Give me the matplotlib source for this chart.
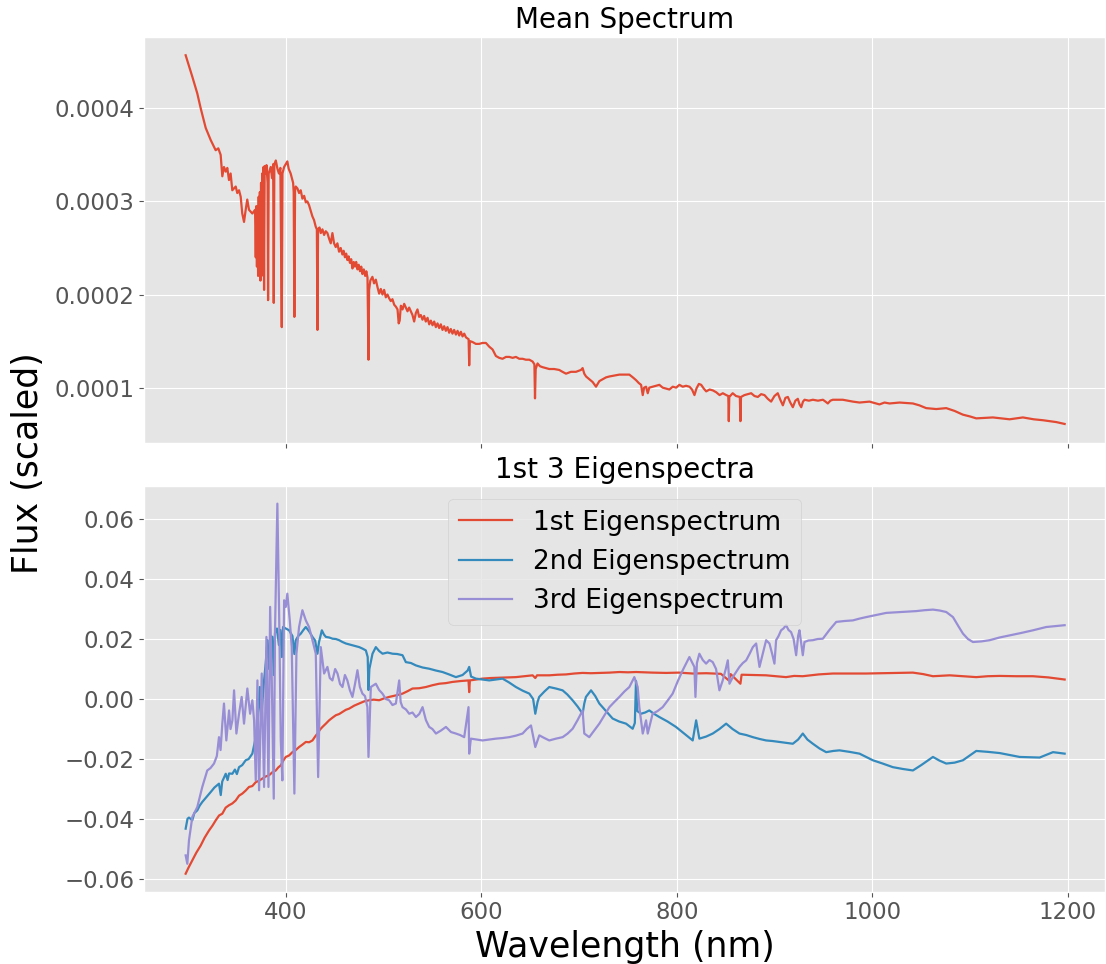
import numpy as np
import matplotlib
matplotlib.use("Agg")
import matplotlib.pyplot as plt

plt.style.use("ggplot")

# mean spectrum, wavelength in nm, flux in units of 1e-4
mean_wl = [
    297.6, 304.4, 309.5, 313.0, 318.1, 323.2, 328.3, 331.0, 333.4, 335.1, 336.8, 338.6,
    340.2, 341.9, 343.6, 345.3, 348.8, 350.4, 352.2, 353.9, 355.5, 357.3, 359.0, 360.6,
    362.4, 365.8, 368.6, 369.3, 369.9, 370.5, 371.1, 371.7, 372.3, 372.9, 373.5, 374.1,
    374.7, 375.3, 375.9, 376.5, 377.2, 377.8, 378.4, 379.5, 380.3, 381.4, 381.9, 382.5,
    384.6, 386.0, 387.1, 387.7, 388.3, 389.8, 391.5, 393.0, 394.5, 395.9, 396.6, 398.3,
    400.0, 401.6, 403.0, 405.0, 407.5, 408.1, 408.8, 409.5, 410.2, 411.9, 413.6, 415.3,
    417.0, 418.8, 420.5, 422.1, 423.8, 425.5, 427.2, 428.9, 430.6, 431.8, 432.4, 433.0,
    434.5, 435.8, 437.5, 439.2, 440.9, 442.6, 444.3, 446.0, 447.7, 449.4, 451.1, 452.8,
    454.5, 456.2, 457.9, 459.2, 460.5, 461.8, 463.0, 464.3, 465.6, 466.9, 468.2, 469.5,
    470.8, 472.0, 473.3, 474.6, 475.9, 477.2, 478.4, 479.8, 481.2, 482.4, 483.6, 484.6,
    485.2, 486.5, 488.6, 490.3, 492.1, 493.8, 495.5, 497.2, 498.9, 500.6, 502.3, 504.0,
    505.7, 507.4, 509.1, 510.9, 512.6, 514.3, 515.5, 516.5, 517.7, 519.4, 521.1, 522.8,
    524.5, 526.2, 527.9, 529.6, 531.3, 533.0, 534.7, 536.4, 538.1, 539.8, 541.5, 543.2,
    545.0, 546.7, 548.4, 550.1, 551.8, 553.5, 555.2, 556.9, 558.6, 560.3, 562.0, 563.7,
    565.4, 567.1, 568.8, 570.5, 572.2, 574.0, 575.7, 577.4, 579.1, 580.8, 582.5, 584.3,
    587.0, 587.6, 588.3, 591.0, 594.4, 597.8, 601.2, 604.7, 608.1, 611.5, 614.9, 618.3,
    621.7, 625.2, 628.6, 632.0, 635.4, 638.8, 642.2, 645.6, 649.1, 652.5, 654.3, 654.9,
    655.6, 657.5, 660.0, 662.6, 666.0, 669.5, 674.5, 679.7, 683.0, 686.6, 691.7, 696.8,
    701.9, 703.6, 705.3, 707.1, 710.5, 713.9, 717.3, 720.7, 724.0, 727.5, 731.0, 736.0,
    741.2, 746.0, 751.4, 755.0, 758.3, 761.0, 763.4, 765.1, 766.5, 768.5, 770.2, 771.8,
    775.2, 778.6, 782.1, 785.5, 789.0, 792.3, 795.8, 799.2, 802.6, 806.0, 809.4, 812.9,
    815.5, 818.0, 820.0, 822.5, 824.9, 827.5, 830.0, 833.5, 836.9, 840.3, 843.7, 847.0,
    850.5, 852.6, 853.1, 853.6, 857.1, 860.5, 864.4, 865.0, 865.6, 869.1, 872.5, 876.0,
    879.4, 882.8, 886.2, 889.6, 893.0, 896.4, 899.8, 903.2, 905.8, 908.4, 911.0, 913.5,
    916.0, 918.6, 921.2, 923.7, 925.5, 927.2, 929.0, 930.6, 935.0, 939.1, 944.3, 949.4,
    952.0, 954.4, 957.0, 959.5, 964.6, 969.7, 975.0, 980.0, 986.8, 997.0, 1007.2, 1012.4,
    1017.5, 1027.8, 1041.4, 1048.0, 1055.0, 1065.3, 1075.5, 1084.0, 1092.5, 1100.0, 1106.2, 1123.2,
    1140.3, 1153.9, 1165.0, 1174.4, 1188.1, 1196.6,
]
mean_flux = [
    4.57, 4.34, 4.16, 4.00, 3.79, 3.66, 3.55, 3.57, 3.50, 3.27, 3.37, 3.32,
    3.36, 3.23, 3.30, 3.12, 3.16, 3.09, 3.12, 3.05, 2.87, 2.78, 2.91, 3.02,
    2.91, 2.87, 2.91, 2.40, 2.95, 2.30, 2.90, 2.20, 3.05, 2.25, 3.10, 2.15,
    3.20, 2.20, 3.30, 2.25, 3.37, 2.05, 3.38, 3.30, 3.39, 3.20, 1.94, 3.30,
    3.37, 3.25, 3.40, 1.91, 3.40, 3.44, 3.35, 3.30, 3.36, 1.65, 3.30, 3.37,
    3.40, 3.43, 3.35, 3.30, 3.20, 3.10, 1.76, 3.12, 3.16, 3.14, 3.09, 3.12,
    3.03, 3.06, 2.99, 3.00, 2.96, 2.90, 2.84, 2.80, 2.73, 2.70, 1.62, 2.70,
    2.72, 2.66, 2.70, 2.64, 2.68, 2.66, 2.60, 2.55, 2.66, 2.55, 2.51, 2.55,
    2.46, 2.50, 2.43, 2.47, 2.40, 2.44, 2.37, 2.41, 2.34, 2.38, 2.28, 2.35,
    2.30, 2.35, 2.27, 2.32, 2.25, 2.30, 2.22, 2.27, 2.20, 2.25, 2.18, 1.30,
    2.05, 2.15, 2.19, 2.12, 2.16, 2.08, 2.01, 2.06, 2.00, 2.05, 1.97, 2.00,
    1.96, 1.93, 1.95, 1.89, 1.87, 1.84, 1.69, 1.72, 1.88, 1.84, 1.90, 1.86,
    1.82, 1.86, 1.82, 1.78, 1.71, 1.80, 1.84, 1.76, 1.78, 1.73, 1.77, 1.71,
    1.75, 1.68, 1.72, 1.67, 1.71, 1.65, 1.69, 1.64, 1.68, 1.62, 1.66, 1.61,
    1.65, 1.59, 1.63, 1.58, 1.62, 1.57, 1.61, 1.56, 1.60, 1.55, 1.58, 1.54,
    1.52, 1.24, 1.50, 1.49, 1.47, 1.47, 1.48, 1.48, 1.44, 1.41, 1.34, 1.32,
    1.31, 1.33, 1.33, 1.32, 1.33, 1.31, 1.31, 1.30, 1.30, 1.28, 1.25, 0.885,
    1.20, 1.26, 1.23, 1.22, 1.21, 1.20, 1.20, 1.19, 1.17, 1.15, 1.17, 1.17,
    1.19, 1.21, 1.15, 1.12, 1.09, 1.06, 1.01, 1.07, 1.09, 1.11, 1.12, 1.13,
    1.14, 1.14, 1.14, 1.11, 1.08, 1.05, 1.03, 0.92, 1.00, 1.01, 0.94, 1.00,
    1.01, 1.02, 1.03, 1.00, 0.99, 0.98, 1.01, 1.00, 1.03, 1.01, 1.02, 1.01,
    0.98, 0.92, 0.99, 1.04, 1.03, 0.99, 0.96, 0.98, 0.97, 0.95, 0.92, 0.94,
    0.92, 0.91, 0.64, 0.90, 0.94, 0.91, 0.90, 0.64, 0.90, 0.92, 0.93, 0.94,
    0.91, 0.90, 0.93, 0.92, 0.88, 0.85, 0.91, 0.94, 0.87, 0.81, 0.89, 0.90,
    0.84, 0.79, 0.86, 0.88, 0.82, 0.79, 0.85, 0.87, 0.86, 0.87, 0.86, 0.87,
    0.85, 0.83, 0.86, 0.87, 0.87, 0.87, 0.86, 0.85, 0.84, 0.85, 0.82, 0.84,
    0.83, 0.84, 0.83, 0.81, 0.78, 0.77, 0.78, 0.75, 0.71, 0.69, 0.67, 0.68,
    0.66, 0.68, 0.66, 0.65, 0.63, 0.61,
]

# eigenspectra, values in units of 1e-2
eig1_wl = [
    297.6, 300.5, 304.4, 308.5, 313.0, 317.0, 321.5, 325.0, 328.4, 331.8, 335.1, 338.5,
    341.9, 345.3, 348.8, 352.2, 355.6, 359.0, 362.4, 365.8, 369.3, 372.7, 376.1, 379.5,
    382.9, 386.3, 389.8, 392.3, 394.9, 397.5, 400.0, 403.4, 406.8, 410.2, 413.6, 417.0,
    420.5, 423.9, 427.3, 430.0, 432.4, 435.0, 437.5, 441.0, 444.3, 447.8, 451.2, 454.6,
    458.0, 461.4, 464.8, 470.0, 475.0, 480.0, 485.3, 490.0, 495.5, 500.5, 505.7, 512.5,
    519.4, 524.5, 529.6, 536.5, 543.3, 550.0, 556.9, 563.7, 570.5, 579.0, 586.9, 587.6,
    588.3, 594.4, 601.2, 609.8, 618.3, 626.8, 635.4, 644.0, 652.5, 655.2, 657.0, 669.5,
    678.0, 686.6, 695.0, 703.6, 712.0, 720.7, 731.0, 741.2, 750.0, 758.3, 766.0, 775.0,
    788.9, 802.0, 816.2, 830.0, 845.0, 853.1, 855.0, 865.0, 866.2, 878.0, 891.2, 901.0,
    911.6, 920.0, 928.7, 945.0, 959.5, 976.0, 993.6, 1010.0, 1027.8, 1041.4, 1052.0, 1061.9,
    1079.0, 1092.0, 1106.2, 1118.0, 1130.0, 1147.0, 1164.1, 1180.0, 1196.6,
]
eig1 = [
    -5.82, -5.62, -5.38, -5.12, -4.88, -4.62, -4.38, -4.22, -4.04, -3.88, -3.82, -3.62,
    -3.54, -3.48, -3.38, -3.22, -3.15, -3.05, -2.93, -2.90, -2.77, -2.72, -2.65, -2.58,
    -2.54, -2.44, -2.38, -2.28, -2.21, -2.05, -1.93, -1.88, -1.77, -1.70, -1.60, -1.52,
    -1.43, -1.44, -1.38, -1.25, -1.15, -1.02, -0.93, -0.82, -0.71, -0.62, -0.54, -0.50,
    -0.43, -0.36, -0.32, -0.22, -0.15, -0.08, -0.04, -0.02, -0.04, 0.02, 0.07, 0.12,
    0.18, 0.26, 0.35, 0.36, 0.40, 0.46, 0.51, 0.53, 0.57, 0.60, 0.62, 0.23,
    0.62, 0.65, 0.68, 0.70, 0.71, 0.72, 0.73, 0.76, 0.79, 0.70, 0.79, 0.79,
    0.81, 0.82, 0.85, 0.87, 0.86, 0.87, 0.88, 0.90, 0.89, 0.90, 0.89, 0.88,
    0.87, 0.88, 0.85, 0.86, 0.84, 0.62, 0.83, 0.51, 0.81, 0.80, 0.79, 0.76,
    0.73, 0.77, 0.76, 0.82, 0.85, 0.85, 0.85, 0.86, 0.87, 0.88, 0.83, 0.76,
    0.79, 0.76, 0.73, 0.76, 0.77, 0.76, 0.76, 0.72, 0.65,
]

eig2_wl = [
    297.6, 299.5, 301.0, 304.4, 306.5, 309.5, 312.0, 314.6, 318.0, 323.2, 327.0, 331.7,
    333.5, 335.0, 338.6, 340.5, 342.0, 345.4, 348.0, 350.0, 352.2, 355.5, 359.0, 362.0,
    365.8, 368.5, 371.0, 373.5, 375.0, 377.8, 379.5, 381.4, 383.0, 384.5, 386.3, 387.7,
    389.0, 391.0, 393.0, 394.5, 396.0, 397.2, 400.0, 403.4, 406.8, 408.8, 410.2, 412.8,
    415.4, 418.0, 420.5, 424.0, 427.3, 430.0, 432.4, 434.0, 436.9, 439.0, 441.0, 444.5,
    447.8, 451.2, 454.6, 458.0, 461.5, 465.0, 468.3, 471.7, 475.1, 478.5, 481.9, 483.8,
    484.6, 485.5, 488.7, 492.1, 495.5, 499.0, 504.0, 509.2, 514.0, 519.4, 522.8, 528.0,
    533.1, 540.0, 546.7, 553.5, 560.3, 567.0, 574.0, 580.8, 586.0, 587.6, 589.5, 594.4,
    601.2, 608.1, 615.0, 621.7, 628.5, 635.4, 642.2, 649.1, 653.0, 655.2, 657.5, 659.2,
    664.5, 669.5, 676.3, 683.1, 688.0, 693.3, 698.5, 703.6, 705.3, 707.0, 712.2, 716.5,
    720.7, 727.5, 734.3, 741.0, 748.0, 754.8, 757.0, 758.2, 759.5, 763.3, 767.5, 771.8,
    777.0, 782.1, 790.5, 799.1, 807.5, 816.2, 819.7, 823.0, 830.0, 836.7, 843.5, 850.4,
    857.0, 864.0, 871.0, 877.7, 884.5, 891.3, 898.0, 905.0, 912.0, 918.6, 924.0, 928.8,
    933.5, 939.1, 946.0, 952.7, 960.0, 966.3, 976.5, 986.8, 1000.4, 1010.5, 1020.9, 1031.0,
    1041.4, 1050.0, 1061.9, 1068.5, 1075.5, 1084.0, 1092.6, 1106.2, 1118.0, 1130.1, 1150.6, 1171.0,
    1184.7, 1196.6,
]
eig2 = [
    -4.32, -3.99, -3.95, -4.04, -3.80, -3.71, -3.55, -3.43, -3.30, -3.10, -2.95, -2.82,
    -3.20, -2.75, -2.49, -2.70, -2.48, -2.49, -2.35, -2.50, -2.27, -2.20, -2.04, -2.00,
    -1.82, -1.40, -0.93, 0.40, -0.60, 0.62, 1.20, 1.96, 1.00, 2.10, 2.07, 0.80,
    2.20, 2.35, 1.80, 2.30, 1.40, 2.40, 2.35, 2.29, 2.10, 1.50, 1.96, 2.10,
    2.18, 2.30, 2.40, 2.25, 2.07, 1.95, 1.51, 1.90, 2.29, 2.15, 2.07, 2.05,
    2.01, 2.00, 1.96, 1.90, 1.85, 1.82, 1.79, 1.76, 1.73, 1.68, 1.62, 1.40,
    0.30, 1.00, 1.51, 1.73, 1.60, 1.51, 1.55, 1.51, 1.50, 1.46, 1.23, 1.20,
    1.12, 1.05, 1.01, 0.95, 0.90, 0.82, 0.73, 0.80, 0.95, 1.07, 0.75, 0.68,
    0.65, 0.62, 0.65, 0.68, 0.55, 0.40, 0.28, 0.18, 0.00, -0.49, -0.10, 0.07,
    0.25, 0.40, 0.35, 0.29, 0.15, -0.04, -0.25, -0.49, -0.15, 0.07, 0.29, 0.10,
    -0.15, -0.40, -0.65, -0.75, -0.82, -0.99, -0.80, 0.60, -0.40, -0.49, -0.45, -0.38,
    -0.50, -0.60, -0.75, -0.93, -1.15, -1.38, -0.71, -1.32, -1.25, -1.15, -1.00, -0.82,
    -1.00, -1.15, -1.20, -1.27, -1.33, -1.38, -1.40, -1.43, -1.46, -1.49, -1.35, -1.15,
    -1.35, -1.49, -1.65, -1.77, -1.73, -1.71, -1.76, -1.82, -2.04, -2.15, -2.27, -2.33,
    -2.38, -2.20, -1.93, -2.05, -2.15, -2.12, -2.04, -1.73, -1.76, -1.80, -1.93, -1.95,
    -1.77, -1.82,
]

eig3_wl = [
    297.6, 299.3, 301.0, 304.4, 309.5, 314.6, 319.7, 323.0, 326.6, 329.5, 331.7, 333.3,
    335.1, 336.8, 339.2, 342.0, 343.5, 345.4, 347.1, 349.5, 352.2, 354.9, 357.3, 360.7,
    363.5, 365.8, 367.6, 369.3, 371.0, 372.7, 375.4, 377.8, 380.2, 382.3, 384.0, 385.7,
    387.7, 389.0, 391.4, 393.2, 394.9, 396.5, 398.3, 400.0, 401.6, 404.1, 406.1, 408.8,
    410.9, 413.6, 417.0, 420.5, 423.8, 427.3, 430.7, 433.1, 435.8, 439.2, 442.6, 445.0,
    447.7, 450.5, 452.9, 455.5, 458.0, 460.5, 463.0, 465.5, 468.2, 470.8, 473.3, 475.8,
    478.4, 481.0, 483.5, 484.6, 487.0, 492.1, 495.5, 498.9, 502.3, 505.7, 509.1, 512.6,
    516.0, 517.5, 519.4, 523.0, 526.2, 529.6, 533.1, 536.5, 539.9, 543.3, 546.7, 550.0,
    553.6, 558.7, 563.8, 569.0, 574.0, 578.3, 582.5, 586.9, 587.6, 589.3, 595.2, 601.2,
    608.0, 614.9, 621.7, 628.6, 635.4, 642.2, 646.5, 650.8, 655.2, 659.3, 664.5, 669.5,
    676.3, 683.2, 688.3, 693.4, 698.5, 703.6, 705.3, 710.4, 715.5, 720.7, 725.8, 731.0,
    736.0, 741.2, 746.3, 751.4, 756.5, 759.9, 761.6, 765.1, 768.5, 770.2, 775.2, 780.3,
    785.5, 790.6, 795.7, 801.0, 806.0, 812.8, 817.9, 819.0, 820.5, 823.0, 826.5, 829.9,
    833.3, 836.7, 840.1, 843.5, 846.9, 850.0, 852.1, 853.8, 857.2, 860.6, 864.0, 867.5,
    870.9, 874.3, 877.7, 881.1, 884.5, 887.9, 891.3, 894.7, 897.5, 899.8, 901.5, 904.0,
    906.6, 909.0, 911.7, 914.2, 916.8, 919.4, 922.0, 924.0, 925.4, 927.0, 928.8, 930.5,
    934.5, 939.0, 944.0, 949.3, 956.0, 963.0, 971.5, 980.0, 986.8, 993.6, 1003.8, 1014.1,
    1029.5, 1044.8, 1053.4, 1061.9, 1068.7, 1075.5, 1082.4, 1087.5, 1092.6, 1097.7, 1102.8, 1111.4,
    1119.9, 1130.0, 1140.3, 1152.0, 1164.2, 1177.8, 1187.0, 1196.6,
]
eig3 = [
    -5.21, -5.49, -4.71, -3.93, -3.60, -2.93, -2.38, -2.30, -2.15, -1.90, -1.27, -1.70,
    -0.82, -0.15, -1.38, -0.38, -1.00, -0.71, 0.29, -1.15, -0.49, 0.07, -0.82, 0.35,
    -0.49, -0.04, -0.71, -2.71, 0.62, -3.04, 0.85, -2.93, 2.07, -2.93, 3.07, 0.62,
    -3.32, 2.29, 6.51, 2.85, -1.38, -2.71, 3.29, 3.07, 3.51, 2.62, 1.73, -3.15,
    1.51, 2.40, 2.96, 2.62, 2.40, 1.96, 1.51, -2.60, 1.73, 0.85, 1.07, 0.70,
    0.62, 1.00, 0.85, 0.50, 0.40, 0.80, 0.62, 0.30, 0.07, 0.50, 0.96, 0.40,
    0.18, 0.10, -0.27, -1.93, 0.40, 0.51, 0.30, 0.18, 0.00, -0.04, -0.20, -0.15,
    0.62, -0.10, -0.27, -0.35, -0.49, -0.45, -0.60, -0.50, -0.27, -0.70, -0.93, -1.00,
    -1.15, -1.05, -0.93, -1.10, -1.15, -1.20, -1.27, -0.27, -1.82, -1.32, -1.35, -1.38,
    -1.35, -1.32, -1.30, -1.27, -1.22, -1.15, -1.00, -0.88, -1.60, -1.21, -1.30, -1.38,
    -1.32, -1.27, -1.15, -0.99, -0.70, -0.38, -1.15, -1.27, -1.05, -0.82, -0.55, -0.27,
    -0.10, 0.07, 0.25, 0.40, 0.73, 0.40, -0.27, -1.15, -0.71, -1.15, -0.49, -0.40,
    -0.27, -0.05, 0.18, 0.60, 0.96, 1.40, 1.07, 0.07, 1.20, 1.51, 1.30, 1.18,
    1.30, 1.23, 1.00, 0.29, 0.62, 1.00, 1.29, 0.51, 0.73, 0.90, 1.07, 1.20,
    1.29, 1.50, 1.73, 1.85, 1.07, 1.51, 1.96, 1.85, 1.50, 1.18, 1.96, 2.10,
    2.29, 2.35, 2.46, 2.30, 2.23, 2.00, 1.46, 2.10, 2.29, 1.90, 1.46, 1.90,
    1.95, 1.96, 2.00, 2.01, 2.30, 2.57, 2.60, 2.62, 2.68, 2.73, 2.80, 2.87,
    2.90, 2.93, 2.96, 2.98, 2.95, 2.90, 2.73, 2.45, 2.18, 2.00, 1.90, 1.92,
    1.96, 2.05, 2.12, 2.20, 2.29, 2.40, 2.43, 2.46,
]

labels = ["1st Eigenspectrum", "2nd Eigenspectrum", "3rd Eigenspectrum"]

fig = plt.figure(figsize=(11.06, 9.64), dpi=100)
ax1 = fig.add_axes([0.1302, 0.5408, 0.869, 0.4211])
ax2 = fig.add_axes([0.1302, 0.0750, 0.869, 0.4209], sharex=ax1)

ax1.plot(mean_wl, np.array(mean_flux) * 1e-4, lw=1.6)
ax1.set_title("Mean Spectrum", fontsize=20)
ax1.set_ylim(0.409e-4, 4.769e-4)
ax1.set_yticks([1e-4, 2e-4, 3e-4, 4e-4])
ax1.set_yticklabels(["0.0001", "0.0002", "0.0003", "0.0004"])
ax1.tick_params(labelbottom=False)

for wl, vals, lab in zip([eig1_wl, eig2_wl, eig3_wl], [eig1, eig2, eig3], labels):
    ax2.plot(wl, np.array(vals) * 1e-2, lw=1.6, label=lab)
ax2.set_title("1st 3 Eigenspectra", fontsize=20)
ax2.set_ylim(-0.0642, 0.071)
ax2.set_yticks([-0.06, -0.04, -0.02, 0.0, 0.02, 0.04, 0.06])
ax2.set_xlim(255, 1238)
ax2.set_xticks([400, 600, 800, 1000, 1200])
ax2.set_xlabel("Wavelength (nm)", fontsize=25, color="black")
ax2.legend(loc="upper center", fontsize=19)

for ax in (ax1, ax2):
    ax.tick_params(labelsize=16.5)

fig.text(0.025, 0.52, "Flux (scaled)", rotation=90, fontsize=25,
         ha="center", va="center")

fig.savefig("out.png", dpi=100)
